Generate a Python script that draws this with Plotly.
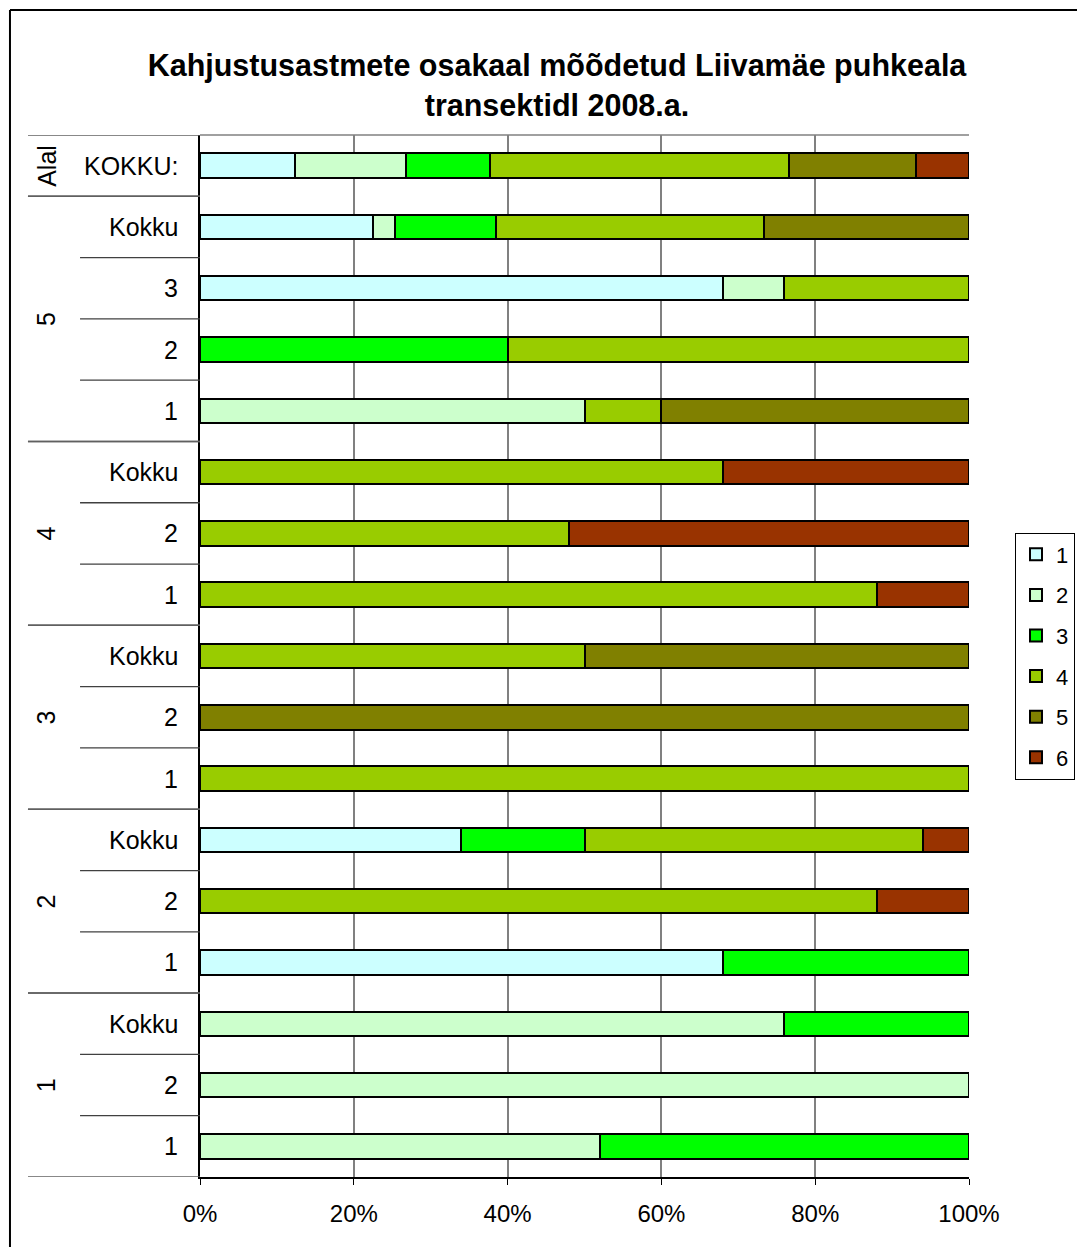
import plotly.graph_objects as go

# Rows from top to bottom
groups = ["Alal", "5", "5", "5", "5", "4", "4", "4", "3", "3", "3", "2", "2", "2", "1", "1", "1"]
rows = ["KOKKU:", "Kokku", "3", "2", "1", "Kokku", "2", "1", "Kokku", "2", "1", "Kokku", "2", "1", "Kokku", "2", "1"]

series_names = ["1", "2", "3", "4", "5", "6"]
s1 = [12.3, 22.5, 68, 0, 0, 0, 0, 0, 0, 0, 0, 34, 0, 68, 0, 0, 0]
s2 = [14.5, 2.8, 8, 0, 50, 0, 0, 0, 0, 0, 0, 0, 0, 0, 76, 100, 52]
s3 = [10.9, 13.2, 0, 40, 0, 0, 0, 0, 0, 0, 0, 16, 0, 32, 24, 0, 48]
s4 = [38.9, 34.8, 24, 60, 10, 68, 48, 88, 50, 0, 100, 44, 88, 0, 0, 0, 0]
s5 = [16.5, 26.7, 0, 0, 40, 0, 0, 0, 50, 100, 0, 0, 0, 0, 0, 0, 0]
s6 = [6.9, 0, 0, 0, 0, 32, 52, 12, 0, 0, 0, 6, 12, 0, 0, 0, 0]
series_values = [s1, s2, s3, s4, s5, s6]
colors = ["#CCFFFF", "#CCFFCC", "#00FF00", "#99CC00", "#808000", "#993300"]

x_ticks = [0, 20, 40, 60, 80, 100]

n = len(rows)
ypos = [n - 1 - i for i in range(n)]  # top row gets highest y

FONT = "Liberation Sans, Arial, sans-serif"
W, H = 1077, 1239

fig = go.Figure()
for k, (name, vals) in enumerate(zip(series_names, series_values)):
    fig.add_trace(go.Bar(
        y=ypos, x=vals, name=name, orientation="h",
        marker=dict(color=colors[k], line=dict(color="#000000", width=2)),
        legendgroup=name,
    ))

shapes = []
annotations = []
# inner labels
for i, lab in enumerate(rows):
    annotations.append(dict(x=-0.026, xref="paper", xanchor="right", y=ypos[i], yref="y",
                            text=lab, showarrow=False, font=dict(size=25, family=FONT, color="#000")))

# group boundaries
group_bounds = []
start = 0
for i in range(1, n + 1):
    if i == n or groups[i] != groups[start]:
        top = ypos[start] + 0.5
        bottom = ypos[i - 1] - 0.5
        group_bounds.append((groups[start], top, bottom))
        start = i

for g, top, bottom in group_bounds:
    annotations.append(dict(x=-0.2, xref="paper", xanchor="center", y=(top + bottom) / 2, yref="y",
                            text=g, showarrow=False, textangle=-90,
                            font=dict(size=25, family=FONT, color="#000")))
    for yy in (top, bottom):
        shapes.append(dict(type="line", xref="paper", yref="y", x0=-0.2237, x1=0, y0=yy, y1=yy,
                           line=dict(color="#606060", width=1.5)))

outer_vals = set()
for g, top, bottom in group_bounds:
    outer_vals.add(top)
    outer_vals.add(bottom)
for i in range(n - 1):
    yy = ypos[i] - 0.5
    if yy not in outer_vals:
        shapes.append(dict(type="line", xref="paper", yref="y", x0=-0.156, x1=0, y0=yy, y1=yy,
                           line=dict(color="#404040", width=1.3)))

# plot area top border
shapes.append(dict(type="line", xref="paper", yref="paper", x0=0, x1=1, y0=1, y1=1,
                   line=dict(color="#808080", width=1.5)))
# outer chart border (left and top edges visible)
shapes.append(dict(type="line", xref="paper", yref="paper", x0=-0.2471, x1=-0.2471, y0=-0.1, y1=1.12,
                   line=dict(color="#000000", width=2)))
shapes.append(dict(type="line", xref="paper", yref="paper", x0=-0.2471, x1=1.2, y0=1.12, y1=1.12,
                   line=dict(color="#000000", width=2)))

fig.update_layout(
    width=W, height=H,
    margin=dict(l=192, r=116, t=127, b=70, autoexpand=False),
    paper_bgcolor="white", plot_bgcolor="white",
    barmode="stack", bargap=0.6,
    title=dict(text="<b>Kahjustusastmete osakaal mõõdetud Liivamäe puhkeala<br>transektidl 2008.a.</b>",
               x=549 / W, xref="container", xanchor="center",
               y=1 - 68 / H, yref="container", yanchor="middle",
               font=dict(size=30.5, family=FONT, color="#000")),
    xaxis=dict(range=[0, 100], tickvals=x_ticks, ticktext=[f"{v}%" for v in x_ticks],
               showgrid=True, gridcolor="#808080", gridwidth=1.5,
               showline=True, linecolor="#000", linewidth=1.5,
               ticks="outside", ticklen=6, tickcolor="#000", ticklabelstandoff=8,
               tickfont=dict(size=24, family=FONT, color="#000"), zeroline=False, fixedrange=True),
    yaxis=dict(range=[-0.5, n - 0.5], showticklabels=False, showgrid=False, zeroline=False,
               showline=True, linecolor="#000", linewidth=1.5, ticks="", fixedrange=True),
    legend=dict(x=1007 / W, xref="container", xanchor="left",
                y=1 - 648 / H, yref="container", yanchor="middle", traceorder="grouped",
                bordercolor="#000", borderwidth=1, bgcolor="white",
                font=dict(size=22, family=FONT, color="#000"), tracegroupgap=9,
                itemwidth=30),
    shapes=shapes, annotations=annotations,
    showlegend=True,
)

fig.write_html("out.html")
